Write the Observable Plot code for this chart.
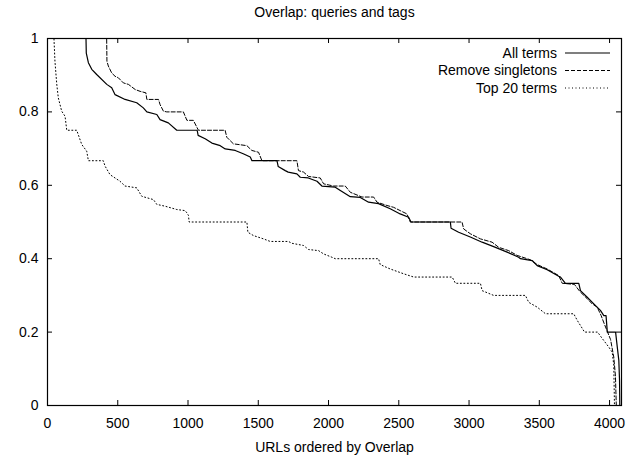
<!DOCTYPE html>
<html><head><meta charset="utf-8">
<script src="https://cdn.jsdelivr.net/npm/d3@7"></script>
<script src="https://cdn.jsdelivr.net/npm/@observablehq/plot@0.6"></script>
<style>
body{margin:0;background:#fff;}
#chart{position:relative;width:632px;height:460px;font-family:"Liberation Sans",Arial,Helvetica,sans-serif;}
#legend{position:absolute;left:380px;top:44px;}
</style>
</head><body><div id="chart"></div>
<script>
const title = "Overlap: queries and tags";
const xLabel = "URLs ordered by Overlap";
const seriesNames = ["All terms", "Remove singletons", "Top 20 terms"];
const xTicks = [0, 500, 1000, 1500, 2000, 2500, 3000, 3500, 4000];
const yTicks = [0, 0.2, 0.4, 0.6, 0.8, 1];

const allTermsX = [0, 274, 276, 291, 315, 350, 422, 457, 481, 552, 635, 682, 707, 778, 801, 860, 920, 1065, 1072, 1122, 1170, 1229, 1265, 1336, 1393, 1443, 1455, 1633, 1642, 1692, 1713, 1775, 1799, 1856, 1918, 1953, 2048, 2084, 2155, 2226, 2285, 2356, 2368, 2439, 2510, 2570, 2587, 2867, 2872, 2926, 3009, 3093, 3175, 3271, 3353, 3366, 3449, 3485, 3556, 3638, 3651, 3686, 3781, 3793, 3841, 3888, 3935, 3959, 3975, 3984, 4043, 4055, 4066, 4071, 4073];
const allTermsY = [1, 1, 0.96, 0.934, 0.916, 0.902, 0.875, 0.866, 0.847, 0.834, 0.825, 0.811, 0.8, 0.793, 0.779, 0.77, 0.75, 0.75, 0.736, 0.727, 0.715, 0.708, 0.699, 0.695, 0.686, 0.677, 0.667, 0.667, 0.651, 0.64, 0.636, 0.631, 0.622, 0.62, 0.611, 0.598, 0.595, 0.586, 0.569, 0.567, 0.554, 0.55, 0.548, 0.536, 0.522, 0.513, 0.5, 0.5, 0.483, 0.472, 0.459, 0.445, 0.433, 0.418, 0.404, 0.4, 0.395, 0.381, 0.37, 0.352, 0.35, 0.333, 0.333, 0.313, 0.295, 0.277, 0.259, 0.245, 0.245, 0.2, 0.2, 0.159, 0.123, 0.068, 0];

const removeSingletonsX = [0, 421, 423, 433, 457, 481, 504, 540, 576, 624, 659, 700, 707, 790, 801, 825, 849, 967, 992, 1038, 1074, 1264, 1276, 1323, 1419, 1454, 1502, 1526, 1775, 1786, 1822, 1858, 1941, 1965, 2036, 2119, 2155, 2238, 2321, 2345, 2416, 2463, 2510, 2558, 2582, 2950, 2962, 3009, 3081, 3164, 3211, 3282, 3342, 3437, 3485, 3556, 3638, 3663, 3750, 3790, 3841, 3876, 3912, 3940, 3965, 4007, 4030, 4042, 4048];
const removeSingletonsY = [1, 1, 0.938, 0.925, 0.906, 0.897, 0.893, 0.879, 0.875, 0.861, 0.856, 0.852, 0.834, 0.834, 0.82, 0.802, 0.8, 0.8, 0.777, 0.777, 0.75, 0.75, 0.731, 0.713, 0.708, 0.695, 0.69, 0.667, 0.667, 0.64, 0.636, 0.624, 0.62, 0.604, 0.598, 0.598, 0.581, 0.568, 0.568, 0.554, 0.545, 0.54, 0.531, 0.522, 0.5, 0.5, 0.481, 0.468, 0.454, 0.445, 0.431, 0.422, 0.409, 0.397, 0.384, 0.372, 0.354, 0.333, 0.33, 0.31, 0.291, 0.277, 0.268, 0.245, 0.22, 0.18, 0.132, 0.08, 0];

const top20X = [0, 46, 53, 66, 77, 101, 125, 137, 208, 219, 244, 279, 291, 397, 410, 445, 516, 552, 635, 671, 754, 778, 837, 920, 979, 992, 1003, 1008, 1419, 1426, 1466, 1537, 1585, 1715, 1739, 1822, 1858, 1929, 1965, 2024, 2048, 2356, 2368, 2439, 2534, 2606, 2880, 2903, 3081, 3093, 3175, 3401, 3425, 3485, 3544, 3745, 3770, 3822, 3915, 3947, 3995, 4019, 4030, 4035];
const top20Y = [1, 1, 0.938, 0.875, 0.838, 0.802, 0.788, 0.75, 0.75, 0.738, 0.711, 0.693, 0.667, 0.667, 0.652, 0.629, 0.611, 0.598, 0.593, 0.57, 0.561, 0.548, 0.543, 0.534, 0.531, 0.525, 0.518, 0.5, 0.5, 0.472, 0.463, 0.454, 0.447, 0.447, 0.442, 0.436, 0.425, 0.422, 0.413, 0.404, 0.4, 0.4, 0.384, 0.372, 0.359, 0.35, 0.35, 0.333, 0.333, 0.313, 0.3, 0.3, 0.281, 0.268, 0.25, 0.25, 0.232, 0.2, 0.2, 0.183, 0.159, 0.145, 0.11, 0];

const dashes = ["none", "4,2", "1,2.5"];
const widths = [1.2, 1, 1];

const series = [
  {name: seriesNames[0], xs: allTermsX, ys: allTermsY},
  {name: seriesNames[1], xs: removeSingletonsX, ys: removeSingletonsY},
  {name: seriesNames[2], xs: top20X, ys: top20Y}
];

const W = 632, H = 460, mL = 47, mR = 11, mT = 38, mB = 55;
const frameW = W - mL - mR, frameH = H - mT - mB;
const font = "Liberation Sans, Arial, Helvetica, sans-serif";

const lineMarks = series.map((s, i) => Plot.line(s.xs.map((x, j) => ({x, y: s.ys[j]})), {
  x: "x", y: "y", stroke: "black", strokeWidth: widths[i],
  strokeDasharray: dashes[i] === "none" ? undefined : dashes[i]
}));

const plot = Plot.plot({
  width: W, height: H,
  marginLeft: mL, marginRight: mR, marginTop: mT, marginBottom: mB,
  style: {fontFamily: font, fontSize: "14px", background: "white", color: "black"},
  x: {domain: [0, 4085]},
  y: {domain: [0, 1]},
  marks: [
    ...lineMarks,
    Plot.tickX(xTicks, {x: d => d, insetTop: frameH - 5, stroke: "black"}),
    Plot.tickX(xTicks, {x: d => d, insetBottom: frameH - 5, stroke: "black"}),
    Plot.tickY(yTicks, {y: d => d, insetRight: frameW - 5, stroke: "black"}),
    Plot.tickY(yTicks, {y: d => d, insetLeft: frameW - 5, stroke: "black"}),
    Plot.frame({stroke: "black", strokeWidth: 1.2}),
    Plot.axisX({ticks: xTicks, tickSize: 0, tickPadding: 13, tickFormat: d => String(d), label: null, fontSize: 14}),
    Plot.axisY({ticks: yTicks, tickSize: 0, tickPadding: 9, tickFormat: d => String(d), label: null, fontSize: 14}),
    Plot.text([title], {frameAnchor: "top", lineAnchor: "middle", dy: -26, fontSize: 14}),
    Plot.text([xLabel], {frameAnchor: "bottom", lineAnchor: "middle", dy: 42, fontSize: 14})
  ]
});

const chart = document.getElementById("chart");
chart.appendChild(plot);

// legend
const ns = "http://www.w3.org/2000/svg";
const leg = document.createElementNS(ns, "svg");
leg.setAttribute("id", "legend");
leg.setAttribute("width", 240);
leg.setAttribute("height", 54);
series.forEach((s, i) => {
  const yy = 9 + i * 17.5;
  const t = document.createElementNS(ns, "text");
  t.setAttribute("x", 177);
  t.setAttribute("y", yy);
  t.setAttribute("dy", "0.35em");
  t.setAttribute("text-anchor", "end");
  t.setAttribute("font-family", font);
  t.setAttribute("font-size", 14);
  t.textContent = s.name;
  leg.appendChild(t);
  const l = document.createElementNS(ns, "line");
  l.setAttribute("x1", 185); l.setAttribute("x2", 230);
  l.setAttribute("y1", yy); l.setAttribute("y2", yy);
  l.setAttribute("stroke", "black");
  l.setAttribute("stroke-width", widths[i]);
  if (dashes[i] !== "none") l.setAttribute("stroke-dasharray", dashes[i]);
  leg.appendChild(l);
});
chart.appendChild(leg);
</script>
</body></html>
